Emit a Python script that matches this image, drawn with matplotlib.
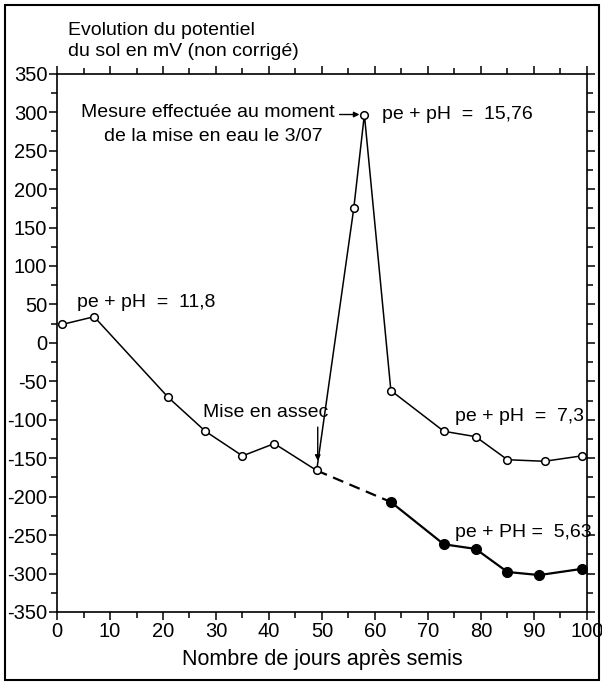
import numpy as np
import matplotlib.pyplot as plt
from matplotlib.patches import Rectangle

plt.rcParams['font.family'] = ['Liberation Sans', 'DejaVu Sans']
plt.rcParams['axes.unicode_minus'] = False

# courbe avec mise en eau (cercles vides)
jours_eau = [1, 7, 21, 28, 35, 41, 49, 56, 58, 63, 73, 79, 85, 92, 99]
pot_eau = [24, 34, -71, -115, -147, -131, -166, 175, 297, -62, -115, -122, -152, -154, -147]

# courbe apres mise en assec (cercles pleins)
jours_assec = [63, 73, 79, 85, 91, 99]
pot_assec = [-207, -262, -268, -298, -302, -294]

fig = plt.figure(figsize=(6.02, 6.83), dpi=100)
ax = fig.add_axes([0.0947, 0.104, 0.8803, 0.788])

ax.plot(jours_eau, pot_eau, color='black', lw=1.1, marker='o', ms=5.5,
        mfc='white', mec='black', mew=1.1, zorder=3)
# liaison en pointilles
ax.plot([jours_eau[6], jours_assec[0]], [pot_eau[6], pot_assec[0]],
        color='black', lw=1.6, ls=(0, (5, 3)), zorder=2)
ax.plot(jours_assec, pot_assec, color='black', lw=1.6, marker='o', ms=7,
        mfc='black', mec='black', zorder=3)

ax.set_xlim(0, 100)
ax.set_ylim(-350, 350)
ax.set_xticks(np.arange(0, 101, 10))
ax.set_xticks(np.arange(0, 101, 5), minor=True)
ax.set_yticks(np.arange(-350, 351, 50))
ax.set_yticks(np.arange(-350, 351, 25), minor=True)
ax.tick_params(which='both', direction='out', top=True, right=True,
               labelsize=14.5, width=1.1)
ax.tick_params(which='major', length=6)
ax.tick_params(which='minor', length=4)
ax.tick_params(axis='y', pad=1)
ax.tick_params(axis='x', pad=1)
for s in ax.spines.values():
    s.set_linewidth(1.2)

ax.set_xlabel('Nombre de jours après semis', fontsize=15.5, labelpad=6)
fig.text(0.113, 0.968, 'Evolution du potentiel\ndu sol en mV (non corrigé)',
         fontsize=14, ha='left', va='top', linespacing=1.3)

fs = 14
ax.text(3.8, 53, 'pe + pH  =  11,8', fontsize=fs, va='center')
ax.text(61.3, 297, 'pe + pH  =  15,76', fontsize=fs, va='center')
ax.text(52.5, 299, 'Mesure effectuée au moment', fontsize=fs, va='center', ha='right')
ax.text(29.5, 268, 'de la mise en eau le 3/07', fontsize=fs, va='center', ha='center')
ax.annotate('', xy=(57.6, 297), xytext=(52.8, 297),
            arrowprops=dict(arrowstyle='-|>', color='black', lw=1.0,
                            mutation_scale=8))
ax.text(27.5, -91, 'Mise en assec', fontsize=fs, va='center', ha='left')
ax.annotate('', xy=(49.2, -157), xytext=(49.2, -106),
            arrowprops=dict(arrowstyle='-|>', color='black', lw=1.0,
                            mutation_scale=8))
ax.text(75.1, -96, 'pe + pH  =  7,3', fontsize=fs, va='center')
ax.text(75.1, -247, 'pe + PH =  5,63', fontsize=fs, va='center')

fig.add_artist(Rectangle((0.009, 0.005), 0.986, 0.988, transform=fig.transFigure,
                         fill=False, lw=1.5, ec='black'))

fig.savefig('out.png', dpi=100)
